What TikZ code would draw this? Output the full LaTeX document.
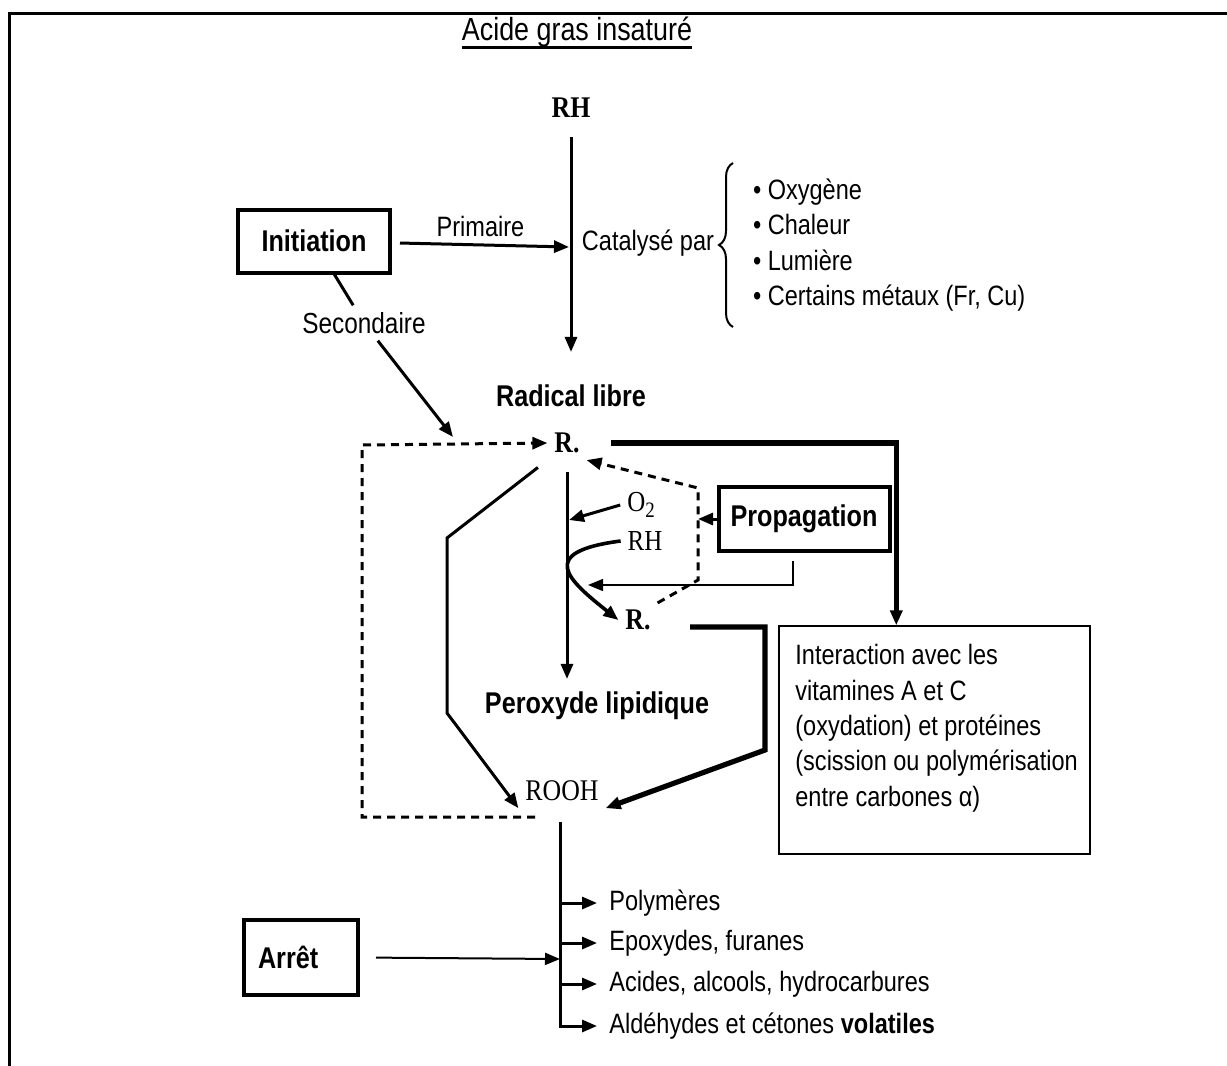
\documentclass[tikz,border=0pt]{standalone}
\usepackage{fontspec}
\setmainfont{Liberation Serif}
\newfontfamily\narrowsf{Liberation Sans}[FakeStretch=0.84]
\newfontfamily\narrowrm{Liberation Serif}[FakeStretch=0.86]
\usetikzlibrary{arrows.meta}
\usetikzlibrary{calc}
\usetikzlibrary{decorations.pathreplacing}

\tikzset{
  stagebox/.style={draw, line width=2pt, inner sep=0pt,
    font=\narrowsf\bfseries\fontsize{15}{18}\selectfont},
  sflabel/.style={font=\narrowsf\fontsize{14}{17.7}\selectfont},
  sfbold/.style={font=\narrowsf\bfseries\fontsize{15}{18}\selectfont},
  chembold/.style={font=\narrowrm\bfseries\fontsize{15}{18}\selectfont},
  chem/.style={font=\narrowrm\fontsize{14.5}{17}\selectfont},
  flow/.style={line width=1.5pt},
  heavy/.style={line width=2.6pt},
  fine/.style={line width=0.7pt},
  dashflow/.style={line width=1.5pt, dash pattern=on 4pt off 3pt},
}

\begin{document}
\begin{tikzpicture}[x=0.5pt, y=-0.5pt, >={Triangle[length=7.5pt,width=6pt]}]
\useasboundingbox (0,0) rectangle (1227,1066);
\draw [line width=1.5pt] (1227,13) -- (9,13) -- (9,1066);

\path
 (577,32)  node [sflabel, font=\narrowsf\fontsize{16}{19}\selectfont, inner sep=0pt] (title) {Acide gras insaturé}
 (571,108) node [chembold] (rh) {RH}
 (314,241) node [stagebox, minimum width=76pt, minimum height=31.5pt] (initiation) {Initiation}
 (648,243) node [sflabel] (catal) {Catalysé par}
 (746,245) node [sflabel, anchor=west, align=left] (agents)
   {\textbullet\ Oxygène\\ \textbullet\ Chaleur\\ \textbullet\ Lumière\\ \textbullet\ Certains métaux (Fr, Cu)}
 (364,323) node [sflabel, font=\narrowsf\fontsize{14.5}{17}\selectfont] (sec) {Secondaire}
 (571,396) node [sfbold] (radical) {Radical libre}
 (567,443) node [chembold] (r1) {R.}
 (641,505) node [chem] (o2) {O\raisebox{-0.45ex}{\fontsize{11}{11}\selectfont 2}}
 (645,541) node [chem] (rh2) {RH}
 (638,620) node [chembold] (r2) {R.}
 (804,519) node [stagebox, minimum width=85.5pt, minimum height=32pt] (prop) {Propagation}
 (597,706) node [sfbold] (peroxyde) {Peroxyde lipidique}
 (562,791) node [chem, font=\narrowrm\fontsize{15}{18}\selectfont] (rooh) {ROOH}
 (934.5,740) node [draw, fine, minimum width=155.5pt, minimum height=114pt] (inter) {}
 (795,644) node [sflabel, anchor=north west, align=left, inner sep=0pt] (intertext)
   {Interaction avec les\\ vitamines A et C\\ (oxydation) et protéines\\ (scission ou polymérisation\\ entre carbones α)}
 (301,957.5) node [stagebox, minimum width=57pt, minimum height=37.5pt,
   text width=43pt, align=left] (arret) {Arrêt}
;

\path
 (569,247) coordinate (primend)
 (453,437) coordinate (secend)
 (535,817) coordinate (loopstart)
 (362,445) coordinate (loopcorner)
 (447,538) coordinate (lbend1)
 (447,713) coordinate (lbend2)
 (569,520) coordinate (o2end)
 (698,580) coordinate (pbend1)
 (698,488) coordinate (pbend2)
 (588,585) coordinate (thinend)
 (690,627) coordinate (r2out)
 (765,627) coordinate (rbend1)
 (765,750) coordinate (rbend2)
 (560,822) coordinate (stemtop)
 (560,959) coordinate (stemarret)
;

\foreach \y/\name/\txt in {903/poly/Polymères, 943/epox/{Epoxydes, furanes},
  984/acid/{Acides, alcools, hydrocarbures}, 1026/alde/{Aldéhydes et cétones \textbf{volatiles}}}
{
  \node [sflabel, anchor=west, inner sep=0pt] (\name) at (609,\y) {\txt};
  \coordinate (s-\name) at (560,\y);
}

\draw [line width=1.5pt]
  ([yshift=-3.5pt]title.base west) -- ([yshift=-3.5pt]title.base east);
\draw [decorate, decoration={brace, amplitude=7pt}, line width=1pt]
  (733,327) -- (733,163);

\draw [flow, ->]
  (rh) -- (radical)
  [shorten <=6pt, shorten >=13pt]
;
\draw [flow, ->, shorten <=4pt]
  (initiation) -- (primend) node [midway, above, sflabel] (primaire) {Primaire}
;
\draw [flow]
  (initiation) -- (sec)
;
\draw [flow, ->]
  (sec) -- (secend)
;
\draw [dashflow, ->]
  (loopstart) -| (loopcorner) -- (r1.west)
;
\draw [heavy, ->, shorten <=12pt]
  (r1.east) -| ($(inter.north west)+(118,0)$)
;
\draw [flow, ->, shorten <=6pt]
  (r1.south west) -- (lbend1) -- (lbend2) -- (rooh.south west)
;
\draw [flow, ->, shorten <=6pt, shorten >=3pt]
  (r1) -- (r1 |- peroxyde.north)
;
\draw [flow, ->]
  (o2.west) -- (o2end)
;
\draw [line width=1.8pt, ->]
  (rh2.west) .. controls (536,552) and (568,580) .. (r2.west)
;
\draw [dashflow, ->]
  (r2.north east) -- (pbend1) -- (pbend2) -- (r1.south east)
;
\draw [flow, ->]
  (prop.west) -- (prop.west -| pbend1)
;
\draw [fine, ->]
  ($(prop.south)+(-11,8)$) |- (thinend)
;
\draw [heavy, ->]
  (r2out) -- (rbend1) -- (rbend2) -- (rooh.south east)
;
\draw [flow, ->]
  (stemtop) |- (alde.west) [shorten >=6pt]
;
\foreach \name in {poly, epox, acid}
  \draw [flow, ->, shorten >=6pt] (s-\name) -- (\name.west);
\draw [line width=1pt, ->, shorten <=8pt]
  (arret.east) -- (stemarret)
;
\end{tikzpicture}
\end{document}
